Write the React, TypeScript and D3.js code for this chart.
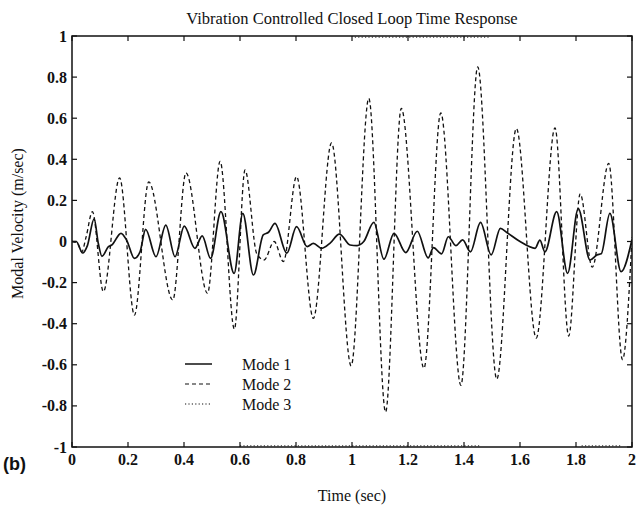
import React from "react";
import * as d3 from "d3";

const title = "Vibration Controlled Closed Loop Time Response";
const xLabel = "Time (sec)";
const yLabel = "Modal Velocity (m/sec)";
const panelLabel = "(b)";
const legendLabels = ["Mode 1", "Mode 2", "Mode 3"];
const xTicks = [0, 0.2, 0.4, 0.6, 0.8, 1, 1.2, 1.4, 1.6, 1.8, 2];
const yTicks = [-1, -0.8, -0.6, -0.4, -0.2, 0, 0.2, 0.4, 0.6, 0.8, 1];

const mode1Time = [0, 0.015, 0.038, 0.055, 0.079, 0.094, 0.107, 0.13, 0.142, 0.175, 0.195, 0.223, 0.243, 0.263, 0.3, 0.335, 0.368, 0.401, 0.439, 0.465, 0.495, 0.532, 0.579, 0.61, 0.648, 0.683, 0.702, 0.725, 0.767, 0.802, 0.84, 0.862, 0.892, 0.921, 0.955, 0.993, 1.018, 1.042, 1.078, 1.114, 1.15, 1.192, 1.233, 1.272, 1.291, 1.32, 1.344, 1.371, 1.395, 1.423, 1.459, 1.497, 1.53, 1.553, 1.6, 1.654, 1.671, 1.689, 1.731, 1.77, 1.808, 1.85, 1.875, 1.89, 1.921, 1.961, 2.0];
const mode1Values = [0, 0.0, -0.056, -0.02, 0.11, -0.01, -0.072, -0.025, -0.017, 0.04, 0.007, -0.082, -0.05, 0.059, -0.074, 0.08, -0.074, 0.075, -0.033, 0.027, -0.082, 0.145, -0.155, 0.137, -0.163, 0.032, 0.045, 0.088, -0.057, 0.072, -0.025, -0.009, -0.033, -0.009, 0.036, -0.017, -0.02, 0.0, 0.093, -0.086, 0.04, -0.054, 0.05, -0.08, -0.03, -0.06, 0.023, -0.02, 0.008, -0.05, 0.093, -0.065, 0.064, 0.044, 0.0, -0.033, 0.007, -0.05, 0.145, -0.155, 0.16, -0.09, -0.065, -0.06, 0.137, -0.147, 0.01];

const mode2Time = [0, 0.02, 0.035, 0.05, 0.073, 0.112, 0.17, 0.223, 0.274, 0.36, 0.407, 0.484, 0.529, 0.58, 0.618, 0.66, 0.686, 0.722, 0.755, 0.802, 0.862, 0.927, 0.997, 1.06, 1.12, 1.176, 1.257, 1.317, 1.389, 1.449, 1.517, 1.587, 1.658, 1.725, 1.774, 1.815, 1.858, 1.917, 1.966, 2.0];
const mode2Values = [0, -0.01, -0.05, 0.02, 0.145, -0.244, 0.31, -0.358, 0.29, -0.285, 0.334, -0.252, 0.39, -0.427, 0.348, -0.06, -0.09, 0.0, -0.098, 0.316, -0.374, 0.48, -0.605, 0.697, -0.83, 0.648, -0.617, 0.626, -0.7, 0.85, -0.67, 0.55, -0.47, 0.553, -0.46, 0.232, -0.125, 0.38, -0.575, 0.02];

const mode3Time = [0.6, 1.46, null, 1.82, 1.96, null, 1.01, 1.49];
const mode3Values = [-0.994, -0.994, null, -0.994, -0.994, null, 0.994, 0.994];

const W = 637, H = 505;
const L = 72, R = 632, T = 36, B = 447;

const x = d3.scaleLinear().domain([0, 2]).range([L, R]);
const y = d3.scaleLinear().domain([-1, 1]).range([B, T]);

type P = { t: number | null; v: number | null };
const zip = (ts: (number | null)[], vs: (number | null)[]): P[] => ts.map((t, i) => ({ t, v: vs[i] }));

const smooth = d3
  .line<P>()
  .x((d) => x(d.t as number))
  .y((d) => y(d.v as number))
  .curve(d3.curveMonotoneX);

const straight = d3
  .line<P>()
  .defined((d) => d.t !== null && d.v !== null)
  .x((d) => x(d.t as number))
  .y((d) => y(d.v as number));

const serif = "'Liberation Serif', 'Times New Roman', serif";
const fmt = (v: number) => (Math.abs(v) < 1e-9 ? "0" : String(+v.toFixed(1)));

export default function App() {
  const m1 = zip(mode1Time, mode1Values);
  const m2 = zip(mode2Time, mode2Values);
  const m3 = zip(mode3Time, mode3Values);
  const tick = 5;
  const legendY = [364, 384, 404];
  const dashes = ["none", "4,3", "1.2,2.2"];
  return (
    <svg width={W} height={H} style={{ position: "absolute", left: 0, top: 0, background: "#fff" }}>
      <rect x={0} y={0} width={W} height={H} fill="#fff" />
      <text x={(L + R) / 2} y={24} textAnchor="middle" fontFamily={serif} fontSize={16.5} fill="#111">
        {title}
      </text>
      {/* data */}
      <g clipPath="url(#clip)">
        <path d={smooth(m2) || ""} fill="none" stroke="#111" strokeWidth={1.3} strokeDasharray="4,3" />
        <path d={smooth(m1) || ""} fill="none" stroke="#111" strokeWidth={1.7} />
        <path d={straight(m3) || ""} fill="none" stroke="#333" strokeWidth={1} strokeDasharray="1.2,2.2" />
      </g>
      <defs>
        <clipPath id="clip">
          <rect x={L} y={T - 1} width={R - L} height={B - T + 2} />
        </clipPath>
      </defs>
      {/* frame */}
      <rect x={L} y={T} width={R - L} height={B - T} fill="none" stroke="#111" strokeWidth={1.5} />
      {xTicks.map((v) => (
        <g key={"xt" + v}>
          <line x1={x(v)} x2={x(v)} y1={B} y2={B - tick} stroke="#111" strokeWidth={1.2} />
          <line x1={x(v)} x2={x(v)} y1={T} y2={T + tick} stroke="#111" strokeWidth={1.2} />
          <text x={x(v)} y={465} textAnchor="middle" fontFamily={serif} fontWeight="bold" fontSize={16} fill="#111">
            {fmt(v)}
          </text>
        </g>
      ))}
      {yTicks.map((v) => (
        <g key={"yt" + v}>
          <line x1={L} x2={L + tick} y1={y(v)} y2={y(v)} stroke="#111" strokeWidth={1.2} />
          <line x1={R} x2={R - tick} y1={y(v)} y2={y(v)} stroke="#111" strokeWidth={1.2} />
          <text x={L - 5} y={y(v) + 5.5} textAnchor="end" fontFamily={serif} fontWeight="bold" fontSize={16} fill="#111">
            {fmt(v)}
          </text>
        </g>
      ))}
      <text x={(L + R) / 2} y={501} textAnchor="middle" fontFamily={serif} fontSize={16} fill="#111">
        {xLabel}
      </text>
      <text
        transform={`translate(23, ${(T + B) / 2 - 18}) rotate(-90)`}
        textAnchor="middle"
        fontFamily={serif}
        fontSize={16}
        fill="#111"
      >
        {yLabel}
      </text>
      <text x={3} y={470} fontFamily="'Liberation Sans', Arial, sans-serif" fontWeight="bold" fontSize={18} fill="#111">
        {panelLabel}
      </text>
      {/* legend */}
      {legendLabels.map((lab, i) => (
        <g key={lab}>
          <line
            x1={185}
            x2={212}
            y1={legendY[i]}
            y2={legendY[i]}
            stroke="#111"
            strokeWidth={i === 0 ? 1.5 : 1.2}
            strokeDasharray={dashes[i] === "none" ? undefined : dashes[i]}
          />
          <text x={242} y={legendY[i] + 5.5} fontFamily={serif} fontSize={16} fill="#111">
            {lab}
          </text>
        </g>
      ))}
    </svg>
  );
}
